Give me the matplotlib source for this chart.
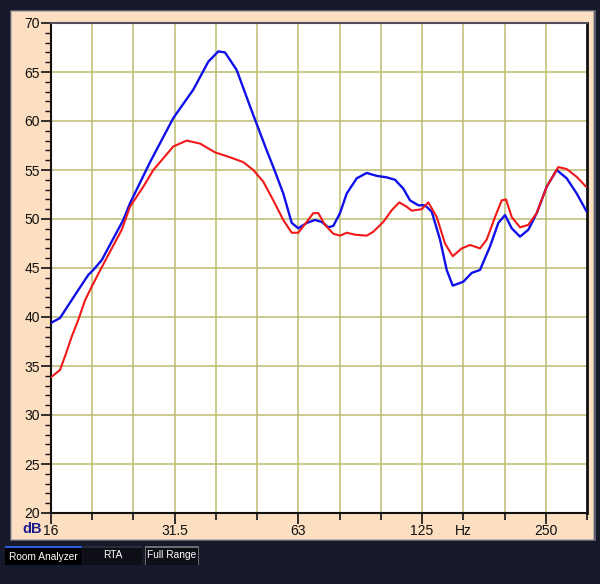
import numpy as np
import matplotlib
matplotlib.use("Agg")
import matplotlib.pyplot as plt
from matplotlib.patches import Rectangle

# ---- data ----
blue_freq = [16.0, 16.83, 17.63, 18.64, 19.72, 20.28, 21.26, 23.99, 24.91, 27.87, 31.75, 35.52, 38.63,
             40.86, 42.42, 45.30, 48.80, 53.59, 55.61, 58.81, 61.65, 63.97, 67.06, 70.25,
             72.94, 75.68, 77.84, 80.81, 83.91, 88.74, 93.86, 99.27, 104.99, 109.99,
             115.22, 119.63, 125.33, 130.12, 135.10, 141.54, 146.95, 151.98, 161.28,
             169.05, 177.10, 187.31, 196.22, 203.73, 211.53, 221.60, 232.15, 243.34,
             257.36, 272.20, 287.89, 304.48, 322.03]
blue_db = [39.4, 39.9, 41.2, 42.75, 44.3, 44.8, 45.8, 49.9, 51.6, 55.8, 60.3, 63.2, 66.05,
           67.1, 67.0, 65.2, 61.5, 57.0, 55.3, 52.6, 49.6, 49.05, 49.6, 49.9,
           49.7, 49.15, 49.3, 50.6, 52.6, 54.15, 54.7, 54.4, 54.25, 54.0,
           53.1, 51.9, 51.4, 51.4, 50.75, 47.9, 44.8, 43.2, 43.6,
           44.5, 44.8, 47.2, 49.6, 50.4, 49.05, 48.2, 48.9, 50.6,
           53.3, 55.0, 54.15, 52.6, 50.75]

red_freq = [16.0, 16.83, 17.31, 17.97, 18.64, 19.36, 20.10, 21.40, 23.78, 24.91, 26.84,
            28.39, 31.75, 34.23, 36.88, 40.11, 43.63, 47.00, 49.71, 52.58, 55.61, 58.81,
            61.65, 63.97, 67.06, 69.58, 71.56, 74.30, 77.84, 80.81, 83.91, 87.90, 93.86,
            97.39, 103.00, 107.97, 112.67, 117.44, 120.77, 127.74, 132.55, 138.94,
            145.56, 151.98, 159.84, 167.44, 177.10, 183.87, 192.63, 200.00, 204.88,
            211.53, 221.60, 232.15, 243.34, 257.36, 274.65, 287.89, 304.48, 320.77]
red_db = [33.85, 34.6, 36.0, 38.0, 39.7, 41.7, 43.1, 45.3, 48.9, 51.25, 53.3,
          55.0, 57.4, 58.0, 57.7, 56.8, 56.3, 55.8, 55.0, 53.8, 51.9, 49.9,
          48.6, 48.6, 49.7, 50.6, 50.6, 49.4, 48.5, 48.3, 48.6, 48.4, 48.3,
          48.7, 49.7, 50.9, 51.7, 51.25, 50.85, 51.0, 51.7, 50.2,
          47.5, 46.2, 47.0, 47.35, 47.0, 47.9, 50.2, 51.9, 52.0,
          50.2, 49.15, 49.4, 50.6, 53.3, 55.3, 55.1, 54.3, 53.3]

third_oct = [16, 20, 25, 31.5, 40, 50, 63, 80, 100, 125, 160, 200, 250, 315]
x_labels = {16: "16", 31.5: "31.5", 63: "63", 125: "125", 160: "Hz", 250: "250"}
y_major = [20, 25, 30, 35, 40, 45, 50, 55, 60, 65, 70]
tab_labels = ["Room Analyzer", "RTA", "Full Range"]

# ---- styling ----
BG = "#151929"
PEACH = "#fcdfc0"
GRID = "#bcbc72"

fig = plt.figure(figsize=(6.0, 5.84), dpi=100)
fig.patch.set_facecolor(BG)
W, H = 600.0, 584.0

def fx(px):
    return px / W

def fy(py):
    return 1 - py / H

def rect(x0, y0, x1, y1, color, z):
    fig.patches.append(Rectangle((fx(x0), fy(y1)), (x1 - x0) / W, (y1 - y0) / H,
                                 transform=fig.transFigure, facecolor=color,
                                 edgecolor="none", zorder=z))

# panel frame
rect(10, 10, 596, 541, "#5e5e6c", -3)
rect(11, 11, 594, 540, "#b8b0a8", -2)
rect(12, 12, 593, 539, PEACH, -1)

ax = fig.add_axes([fx(51), fy(513), (587 - 51) / W, (513 - 23) / H])
ax.set_zorder(2)
ax.set_facecolor("white")

def pos(f):
    # nominal third-octave position
    k = int(round(3 * np.log2(f / 16.0)))
    return 16.0 * 2 ** (k / 3.0)

ax.set_xscale("log")
xmax = 16.0 * 2 ** (13 / 3.0)
ax.set_xlim(16.0, xmax)
ax.set_ylim(20, 70)

for f in third_oct[1:-1]:
    ax.axvline(pos(f), color=GRID, lw=1.1, zorder=1)
for v in y_major[1:-1]:
    ax.axhline(v, color=GRID, lw=1.1, zorder=1)

ax.plot(blue_freq, blue_db, color="#1010e8", lw=1.7, zorder=3,
        solid_joinstyle="round", solid_capstyle="round")
ax.plot(red_freq, red_db, color="#f01818", lw=1.5, zorder=3,
        solid_joinstyle="round", solid_capstyle="round")

# x ticks
xt = [pos(f) for f in third_oct]
ax.set_xticks(xt)
ax.set_xticklabels([x_labels.get(f, "") for f in third_oct])
ax.xaxis.set_minor_locator(matplotlib.ticker.NullLocator())
ax.tick_params(axis="x", which="major", direction="out", length=5, width=1.2,
               color="#101010", labelsize=10, pad=3, labelcolor="#101010")
for t, f in zip(ax.xaxis.get_major_ticks(), third_oct):
    if f in (16, 31.5, 63, 125, 250):
        t.tick1line.set_markersize(8)

# y ticks
ax.set_yticks(y_major)
ax.set_yticklabels([str(v) for v in y_major])
ax.set_yticks(np.arange(20, 71, 1), minor=True)
ax.tick_params(axis="y", which="major", direction="out", length=7, width=1.2,
               color="#101010", labelsize=10, pad=1, labelcolor="#101010")
ax.tick_params(axis="y", which="minor", direction="out", length=4, width=1.0,
               color="#101010")

for s in ["left", "bottom"]:
    ax.spines[s].set_color("#101010")
    ax.spines[s].set_linewidth(1.5)
ax.spines["top"].set_color("#505060")
ax.spines["top"].set_linewidth(1.5)
ax.spines["right"].set_color("#101010")
ax.spines["right"].set_linewidth(2.0)

for lab in ax.get_xticklabels() + ax.get_yticklabels():
    lab.set_fontfamily("Liberation Sans")

fig.text(fx(22), fy(529), "dB", color="#1c1c8e", fontsize=10.5, fontweight="bold",
         family="Liberation Sans", va="center", ha="left", zorder=3)

# tabs
tabs = [(5, 82, "#000000", "#2a5cd8", None, 557),
        (83, 142, "#0e0e16", "#2c2c38", None, 555),
        (145, 199, "#0e0e16", "#6c6c70", "#6c6c70", 555)]
for (x0, x1, face, top, side, ty), label in zip(tabs, tab_labels):
    rect(x0, 546, x1, 565, face, 1)
    rect(x0, 546, x1, 548, top, 2)
    if side:
        rect(x0, 546, x0 + 1, 565, side, 2)
        rect(x1 - 1, 546, x1, 565, side, 2)
    fig.text(fx((x0 + x1) / 2), fy(ty), label, color="white", fontsize=7.3,
             family="Liberation Sans", ha="center", va="center", zorder=3)

fig.savefig("out.png", dpi=100, facecolor=BG)
